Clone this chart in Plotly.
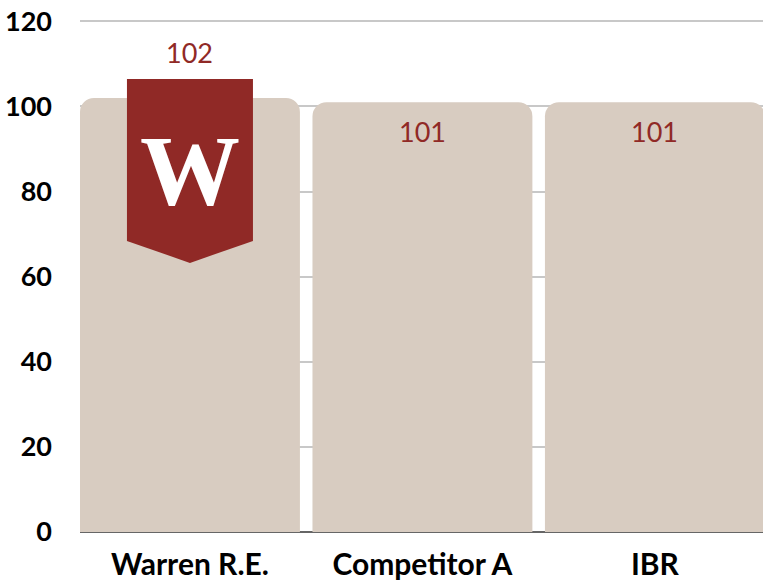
import plotly.graph_objects as go

categories = ["Warren R.E.", "Competitor A", "IBR"]
values = [102, 101, 101]
value_labels = ["102", "101", "101"]
y_ticks = [0, 20, 40, 60, 80, 100, 120]

BAR = "#d8ccc1"
RED = "#902926"
FONT = "Lato, 'Noto Sans', sans-serif"

x_pos = list(range(len(categories)))

fig = go.Figure(go.Bar(
    x=x_pos, y=values,
    marker=dict(color=BAR, cornerradius=14, line=dict(width=0)),
    hoverinfo="skip",
))

# banner logo on the first bar (pixel-sized shape anchored to the bar top)
fig.add_shape(
    type="path", xref="x", yref="y",
    xsizemode="pixel", ysizemode="pixel",
    xanchor=x_pos[0], yanchor=values[0],
    path="M -63 19 L 63 19 L 63 -143 L 0 -165 L -63 -143 Z",
    fillcolor=RED, line=dict(width=0), layer="above",
)
fig.add_annotation(
    x=x_pos[0], y=values[0], yshift=-73, text="<b>W</b>", showarrow=False,
    font=dict(family="'Liberation Serif', serif", size=100, color="white"),
    xanchor="center", yanchor="middle",
)

for i, (v, lab) in enumerate(zip(values, value_labels)):
    fig.add_annotation(
        x=x_pos[i], y=v, yshift=45 if i == 0 else -29, text=lab, showarrow=False,
        font=dict(family=FONT, size=27, color=RED),
        xanchor="center", yanchor="middle",
    )

fig.update_layout(
    width=763, height=584,
    margin=dict(l=80, r=0, t=20, b=52),
    paper_bgcolor="white", plot_bgcolor="white",
    bargap=0.054, showlegend=False,
    font=dict(family=FONT, color="black"),
)
fig.update_xaxes(
    range=[-0.473, 2.465], tickvals=x_pos, ticktext=categories,
    tickfont=dict(family=FONT, size=30, color="black", weight="bold"),
    showgrid=False, showline=False, ticks="", ticklabelstandoff=12,
)
fig.update_yaxes(
    range=[0, 120.3], tickvals=y_ticks,
    tickfont=dict(family=FONT, size=27, color="black", weight="bold"),
    showgrid=True, gridcolor="#c8c8c8", gridwidth=1.5,
    zeroline=True, zerolinecolor="#666666", zerolinewidth=1.5,
    showline=False, ticks="", ticklabelstandoff=27,
    ticklabeloverflow="allow",
)

fig.write_html(
    "out.html",
    config={"displayModeBar": False},
    post_script="document.body.style.margin='0';document.body.style.overflow='hidden';",
)
